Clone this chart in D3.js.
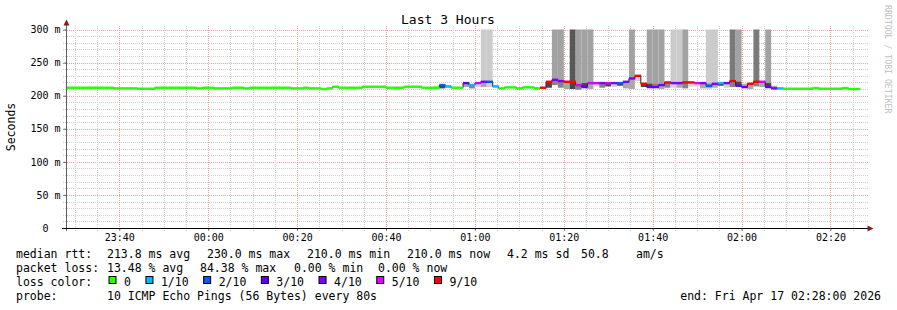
<!DOCTYPE html>
<html>
<head>
<meta charset="utf-8">
<script src="https://cdn.jsdelivr.net/npm/d3@7"></script>
<style>
  body { margin: 0; background: #fff; }
  svg text { font-family: "DejaVu Sans Mono", monospace; }
</style>
</head>
<body>
<div id="chart"></div>
<script>
// smokeping style "Last 3 Hours" graph, one slot every 80s
const endTime = new Date(2026, 3, 17, 2, 28, 0);
const stepSec = 80;

// median rtt per slot (ms)
const median = [
  212,212,212,212,212,212,212,212,211,211,
  211,211,210.5,210.5,210.5,212,212,212,212,212,
  212,212,211,212,212,211,211,211,212,212,
  211,212,212,212,212,212,212,212,211,211,
  212,211,211,210,211,213.5,212,212,212,212,
  213.5,213.5,213.5,213.5,212,212,212,213.5,213.5,213.5,
  212,212,212,216,214,212,212,219,216,219,
  221,221,214,211,212.5,212.5,211,212.5,212.5,211,
  212,221,224,222,221,221,216,213,219,219,
  219,219,219,219,221,226,230,218,213,213,
  216,220,219,219,220,220,219,219,215,218,
  219,219,222,215,213,218,221,221,213,211,
  211,210.5,210.5,210.5,210.5,210.5,211.5,210.5,210.5,210.5,
  210.5,211.5,210,210
];

// lost pings out of 10 per slot
const lossCount = [
  0,0,0,0,0,0,0,0,0,0,
  0,0,0,0,0,0,0,0,0,0,
  0,0,0,0,0,0,0,0,0,0,
  0,0,0,0,0,0,0,0,0,0,
  0,0,0,0,0,0,0,0,0,0,
  0,0,0,0,0,0,0,0,0,0,
  0,0,0,2,1,0,0,3,1,5,
  4,2,1,0,0,0,0,0,0,0,
  9,9,4,4,9,9,5,3,5,5,
  4,5,4,2,4,4,9,9,3,3,
  4,9,4,4,9,9,5,4,2,4,
  1,4,9,3,3,9,9,5,3,4,
  1,0,0,0,0,0,0,0,0,0,
  0,0,0,0
];

// smoke close to the median: slot, low ping, high ping, density level
const smokeSlot  = [62,63,64,67,68,69,70,71,72,81,82,83,84,85,86,87,88,89,90,91,92,93,94,95,96,97,98,99,100,101,102,103,104,105,106,107,108,109,110,111,112,113,114,115,116,117,118,119];
const smokeLo    = [212,211,212,213,211,213,213,213,212,212,216,212,210,210,209,213,210,214,212,214,213,215,211,210,222,213,213,213,210,212,212,212,211,214,214,211,211,212,215,212,213,215,213,210,214,213,213,211];
const smokeHi    = [215,216,214,219,216,219,221,221,214,221,224,222,221,221,216,219,219,219,219,219,219,219,221,226,230,218,218,218,216,220,219,219,220,220,219,219,219,218,219,219,222,221,218,218,221,221,219,215];
const smokeLevel = [1,4,2,2,3,1,2,1,1,4,3,3,2,4,3,4,2,1,3,4,1,4,2,2,1,4,4,3,2,3,1,2,3,1,1,2,2,2,4,1,3,4,2,2,3,2,4,2];

// slow pings running off the top of the graph
const tallSlot  = [70,71,82,83,85,86,87,88,95,98,99,100,102,103,104,108,109,112,113,116,118];
const tallHi    = [340,340,340,340,340,340,340,340,340,340,340,340,340,340,340,340,340,340,340,340,340];
const tallLevel = [1,1,2,2,4,2,2,2,2,2,2,2,1,1,2,1,1,3,2,3,2];

const yTickValues = [0, 50, 100, 150, 200, 250, 300];
const yTickLabels = ["0", "50 m", "100 m", "150 m", "200 m", "250 m", "300 m"];

const lossLabels = ["0", "1/10", "2/10", "3/10", "4/10", "5/10", "9/10"];
const lossColors = ["#26ff00", "#00b8ff", "#0059ff", "#5e00ff", "#7e00ff", "#dd00ff", "#ff0000"];

const W = 897, H = 310;
const startTime = d3.timeHour.offset(endTime, -3);

const svg = d3.select("#chart").append("svg")
  .attr("width", W).attr("height", H)
  .style("display", "block");

svg.append("rect").attr("width", W).attr("height", H).attr("fill", "#fff");

const x = d3.scaleTime().domain([startTime, endTime]).range([66, 866]);
const y = d3.scaleLinear().domain([0, 300]).range([228, 29.5]).clamp(true);

const slotTime = i => d3.timeSecond.offset(startTime, i * stepSec);
const lossColor = d3.scaleThreshold().domain([1, 2, 3, 4, 5, 9]).range(lossColors);
const nearShade = d3.scaleOrdinal().domain([1, 2, 3, 4]).range(["#d2d2d2", "#a8a8a8", "#848484", "#474747"]);
const tallShade = d3.scaleOrdinal().domain([1, 2, 3, 4]).range(["#cbcbcb", "#a2a2a2", "#7a7a7a", "#585858"]);

// grid
const grid = svg.append("g");
const minorX = x.ticks(d3.timeMinute.every(5));
const minorY = d3.range(0, 301, 10);

grid.selectAll(".gy").data(minorY).enter().append("line")
  .attr("x1", 63).attr("x2", 869)
  .attr("y1", d => Math.round(y(d)) + 0.5).attr("y2", d => Math.round(y(d)) + 0.5)
  .attr("stroke", d => d % 50 === 0 ? "#f2a0a0" : "#cfcfcf")
  .attr("stroke-dasharray", "1,1");

grid.selectAll(".gx").data(minorX).enter().append("line")
  .attr("x1", d => Math.round(x(d)) + 0.5).attr("x2", d => Math.round(x(d)) + 0.5)
  .attr("y1", 26).attr("y2", 231)
  .attr("stroke", d => d.getMinutes() % 20 === 0 ? "#f2a0a0" : "#cfcfcf")
  .attr("stroke-dasharray", "1,1");

// smoke
const plot = svg.append("g");
plot.selectAll(".tall").data(tallSlot).enter().append("rect")
  .attr("x", d => x(slotTime(d)))
  .attr("width", d => x(slotTime(d + 1)) - x(slotTime(d)))
  .attr("y", (d, i) => y(tallHi[i]))
  .attr("height", (d, i) => y(median[d]) - y(tallHi[i]))
  .attr("fill", (d, i) => tallShade(tallLevel[i]));

plot.selectAll(".near").data(smokeSlot).enter().append("rect")
  .attr("x", d => x(slotTime(d)))
  .attr("width", d => x(slotTime(d + 1)) - x(slotTime(d)))
  .attr("y", (d, i) => y(smokeHi[i]))
  .attr("height", (d, i) => y(smokeLo[i]) - y(smokeHi[i]))
  .attr("fill", (d, i) => nearShade(smokeLevel[i]));

// median: dark step line under the loss-coloured bars
const pts = median.map((m, i) => [slotTime(i), m]);
pts.push([slotTime(median.length), median[median.length - 1]]);
plot.append("path")
  .attr("d", d3.line().x(d => x(d[0])).y(d => y(d[1])).curve(d3.curveStepAfter)(pts))
  .attr("fill", "none").attr("stroke", "#202020").attr("stroke-width", 1);

plot.selectAll(".med").data(median).enter().append("rect")
  .attr("x", (d, i) => x(slotTime(i)))
  .attr("width", (d, i) => x(slotTime(i + 1)) - x(slotTime(i)) + 0.3)
  .attr("y", d => y(d) - 1.2)
  .attr("height", 2.4)
  .attr("fill", (d, i) => lossColor(lossCount[i]));

// axes
const yAxis = svg.append("g").attr("transform", "translate(66.5,0)")
  .call(d3.axisLeft(y).tickValues(yTickValues).tickSize(3).tickPadding(3)
    .tickFormat((d, i) => yTickLabels[i]));
yAxis.select(".domain").remove();
yAxis.selectAll("line").attr("stroke", "#606060");
yAxis.selectAll("text").attr("font-family", "DejaVu Sans Mono").attr("font-size", 10)
  .attr("fill", "#000")
  .attr("dx", (d, i) => yTickLabels[i].includes(" ") ? 0 : -12); // unitless label keeps rrdtool's padding

const xAxis = svg.append("g").attr("transform", "translate(0,228.5)")
  .call(d3.axisBottom(x).ticks(d3.timeMinute.every(20)).tickFormat(d3.timeFormat("%H:%M"))
    .tickSize(2).tickPadding(3));
xAxis.select(".domain").remove();
xAxis.selectAll("line").attr("stroke", "#606060");
xAxis.selectAll("text").attr("font-family", "DejaVu Sans Mono").attr("font-size", 10).attr("fill", "#000");

svg.append("line").attr("x1", 66.5).attr("x2", 66.5).attr("y1", 24).attr("y2", 231)
  .attr("stroke", "#606060");
svg.append("line").attr("x1", 62).attr("x2", 868).attr("y1", 228.5).attr("y2", 228.5)
  .attr("stroke", "#000");
svg.append("path").attr("d", "M63.5,25.5 L66.5,19.5 L69.5,25.5 Z").attr("fill", "#8b1a1a");
svg.append("path").attr("d", "M867.5,225.5 L873.5,228.5 L867.5,231.5 Z").attr("fill", "#8b1a1a");

// titles
svg.append("text").attr("x", 448).attr("y", 24).attr("text-anchor", "middle")
  .attr("font-size", 13).text("Last 3 Hours");
svg.append("text").attr("transform", "translate(15,127) rotate(-90)")
  .attr("text-anchor", "middle").attr("font-size", 11.5).text("Seconds");
svg.append("text").attr("transform", "translate(885,5) rotate(90)")
  .attr("font-size", 8.2).attr("fill", "#c0c0c0").text("RRDTOOL / TOBI OETIKER");

// legend
const legend = svg.append("g").attr("font-size", 11.5).attr("fill", "#000");
const rows = [
  [258, [["median rtt:", 16], ["213.8 ms avg", 107], ["230.0 ms max", 207], ["210.0 ms min", 307],
         ["210.0 ms now", 407], ["4.2 ms sd", 507], ["50.8", 581], ["am/s", 636]]],
  [272, [["packet loss:", 16], ["13.48 % avg", 107], ["84.38 % max", 200], ["0.00 % min", 294], ["0.00 % now", 378]]],
  [286, [["loss color:", 16]]],
  [300, [["probe:", 16], ["10 ICMP Echo Pings (56 Bytes) every 80s", 107]]]
];
rows.forEach(([yy, items]) => {
  items.forEach(([t, xx]) => legend.append("text").attr("x", xx).attr("y", yy).text(t));
});
legend.append("text").attr("x", 881).attr("y", 300).attr("text-anchor", "end")
  .text("end: " + d3.timeFormat("%a %b %d %H:%M:%S %Y")(endTime));

let lx = 108.5;
lossLabels.forEach((lab, i) => {
  legend.append("rect").attr("x", lx + 0.5).attr("y", 276.5).attr("width", 7).attr("height", 7)
    .attr("fill", lossColors[i]).attr("stroke", "#000");
  const t = legend.append("text").attr("x", lx + 15.5).attr("y", 286).text(lab);
  lx += 15.5 + t.node().getComputedTextLength() + 14.5;
});
</script>
</body>
</html>
